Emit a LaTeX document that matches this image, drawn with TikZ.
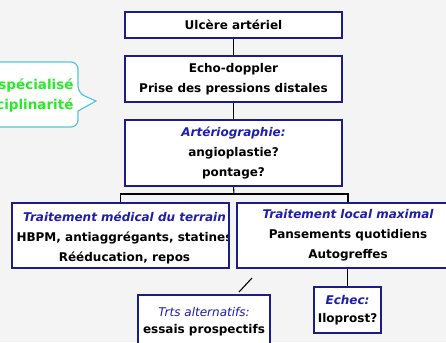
\documentclass[tikz,border=0pt]{standalone}
\usepackage{fontspec}
\setmainfont{DejaVu Sans}
\usepackage{tikz}
\usetikzlibrary{positioning,calc}

\definecolor{boxblue}{RGB}{28,28,140}
\definecolor{hdblue}{RGB}{30,30,170}
\definecolor{callcyan}{RGB}{80,200,215}
\definecolor{callgreen}{RGB}{40,235,40}
\definecolor{bggray}{RGB}{244,244,244}

\begin{document}
\begin{tikzpicture}[x=1pt,y=-1pt,
  box/.style={draw=boxblue, line width=1.3pt, fill=white, inner sep=0pt, align=center,
    font=\bfseries\fontsize{12}{20}\selectfont},
  link/.style={draw=black, line width=1.1pt}
]

% background
\fill[bggray] (0,0) rectangle (446,342);
\useasboundingbox (0,0) rectangle (446,342);

% callout on the left
\draw[callcyan, line width=1.2pt, fill=white, rounded corners=7pt]
  (-40,62) -- (78,62) -- (78,93) [sharp corners] -- (96,101) -- (78,111) [rounded corners=7pt] -- (78,127) -- (-40,127) -- cycle;
\node[anchor=east, align=right, text=callgreen, font=\bfseries\fontsize{13.5}{20}\selectfont]
  (avis) at (77,96) {spécialisé\\ciplinarité};

% main chain
\node[box, minimum width=217, minimum height=26] (ulcere) at (233.5,25) {Ulcère artériel};
\node[box, minimum width=217, minimum height=46] (echo) at (233.5,79) {Echo-doppler\\Prise des pressions distales};
\node[box, minimum width=217, minimum height=66] (arterio) at (233.5,153)
  {{\color{hdblue}\itshape Artériographie:}\\angioplastie?\\pontage?};

% the two treatments
\node[box, minimum width=217, minimum height=65,
  path picture={\node[align=center, font=\bfseries\fontsize{12}{20}\selectfont]
    at ($(path picture bounding box.center)+(4,2)$)
    {{\color{hdblue}\itshape Traitement médical du terrain}\\HBPM, antiaggrégants, statines\\Rééducation, repos};}]
  (medical) at (120.5,235.5) {};
\node[box, minimum width=222, minimum height=65] (local) at (348,235.5)
  {{\color{hdblue}\itshape Traitement local maximal}\\Pansements quotidiens\\Autogreffes};

% lower boxes
\node[box, minimum width=132, minimum height=54, font=\bfseries\fontsize{12}{17}\selectfont]
  (altern) at (204,322) {{\color{hdblue}\mdseries\itshape Trts alternatifs:}\\essais prospectifs};
\node[box, minimum width=67, minimum height=46, font=\bfseries\fontsize{12}{18}\selectfont]
  (echec) at (347.5,310) {{\color{hdblue}\itshape Echec:}\\Iloprost?};

% connectors
\draw[link] (ulcere) -- (echo);
\draw[link] (echo) -- (arterio);
\coordinate (split) at (234,194);
\draw[link] (arterio.south) -- (split);
\draw[link] (split) -| (medical.north);
\draw[link] (split) -| (local.north);
\draw[link] (local.south -| echec.north) -- (echec.north);
\coordinate (tickA) at (252,278);
\coordinate (tickB) at (239,292);
\draw[link] (tickA) -- (tickB);

\end{tikzpicture}
\end{document}
